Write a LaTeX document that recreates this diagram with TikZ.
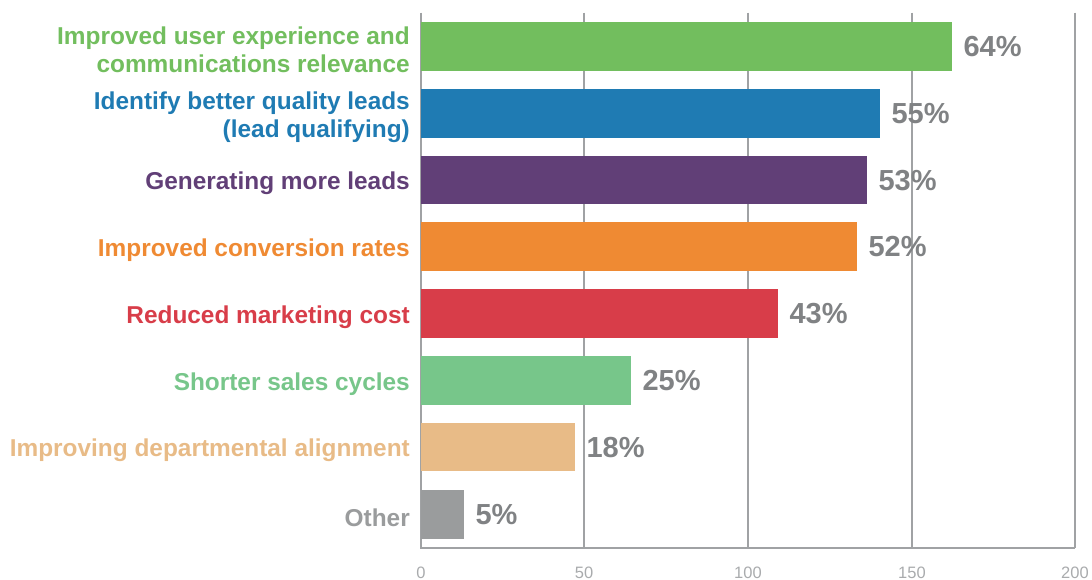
\documentclass[tikz,border=0pt]{standalone}
\usepackage{fontspec}
\setmainfont{Liberation Sans}
\usetikzlibrary{positioning}

\definecolor{barGreen}{HTML}{72BE5E}
\definecolor{barBlue}{HTML}{1F7BB3}
\definecolor{barPurple}{HTML}{613F77}
\definecolor{barOrange}{HTML}{EF8A33}
\definecolor{barRed}{HTML}{D83D49}
\definecolor{barMint}{HTML}{77C68A}
\definecolor{barTan}{HTML}{E8BB87}
\definecolor{barGray}{HTML}{9A9C9D}
\definecolor{pctGray}{HTML}{808284}
\definecolor{axisGray}{HTML}{A0A2A4}
\definecolor{tickGray}{HTML}{A9ABAD}

\begin{document}
\begin{tikzpicture}[x=1pt, y=-1pt, node distance=11pt,
  bar/.style={rectangle, inner sep=0pt, minimum height=48.5pt, anchor=west},
  cattext/.style={inner sep=0pt, align=right, yshift=-3.5pt, font=\bfseries\fontsize{24.4}{28}\selectfont},
  pcttext/.style={inner sep=0pt, text=pctGray, font=\bfseries\fontsize{29}{32}\selectfont},
  ticktext/.style={inner sep=0pt, text=tickGray, font=\fontsize{16.5}{20}\selectfont},
  grid/.style={draw=axisGray, line width=1.3pt}]

\useasboundingbox (0,0) rectangle (1092,580);

% axis and grid
\draw[grid] (584,12.7) -- (584,548);
\draw[grid] (748,12.7) -- (748,548);
\draw[grid] (912,12.7) -- (912,548);
\draw[grid] (1075,12.7) -- (1075,548);
\draw[grid] (421,12.7) -- (421,548) -- (1075,548);

\node (tick0) [ticktext] at (421,572.5) {0};
\node (tick50) [ticktext] at (584,572.5) {50};
\node (tick100) [ticktext] at (748,572.5) {100};
\node (tick150) [ticktext] at (912,572.5) {150};
\node (tick200) [ticktext] at (1075,572.5) {200};

% bars
\node (ux) [bar, fill=barGreen, minimum width=531pt] at (421,46.5) {};
\node (quality) [bar, fill=barBlue, minimum width=459pt] at (421,113.5) {};
\node (leads) [bar, fill=barPurple, minimum width=446pt] at (421,180.2) {};
\node (conversion) [bar, fill=barOrange, minimum width=436pt] at (421,246.5) {};
\node (cost) [bar, fill=barRed, minimum width=357pt] at (421,313.5) {};
\node (cycles) [bar, fill=barMint, minimum width=210pt] at (421,380.5) {};
\node (alignment) [bar, fill=barTan, minimum width=154pt] at (421,447.2) {};
\node (other) [bar, fill=barGray, minimum width=43pt] at (421,514.5) {};

% category labels
\node (ux_text) [cattext, text=barGreen, left=of ux] {Improved user experience and\\communications relevance};
\node (quality_text) [cattext, text=barBlue, left=of quality] {Identify better quality leads\\(lead qualifying)};
\node (leads_text) [cattext, text=barPurple, left=of leads] {Generating more leads};
\node (conversion_text) [cattext, text=barOrange, left=of conversion] {Improved conversion rates};
\node (cost_text) [cattext, text=barRed, left=of cost] {Reduced marketing cost};
\node (cycles_text) [cattext, text=barMint, left=of cycles] {Shorter sales cycles};
\node (alignment_text) [cattext, text=barTan, left=of alignment] {Improving departmental alignment};
\node (other_text) [cattext, text=barGray, left=of other] {Other};

% percentages
\node (ux_pct) [pcttext, right=of ux] {64\%};
\node (quality_pct) [pcttext, right=of quality] {55\%};
\node (leads_pct) [pcttext, right=of leads] {53\%};
\node (conversion_pct) [pcttext, right=of conversion] {52\%};
\node (cost_pct) [pcttext, right=of cost] {43\%};
\node (cycles_pct) [pcttext, right=of cycles] {25\%};
\node (alignment_pct) [pcttext, right=of alignment] {18\%};
\node (other_pct) [pcttext, right=of other] {5\%};

\end{tikzpicture}
\end{document}
